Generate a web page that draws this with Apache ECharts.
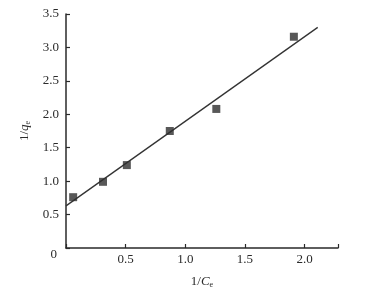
<!DOCTYPE html>
<html><head><meta charset="utf-8">
<script src="https://cdn.jsdelivr.net/npm/echarts@6/dist/echarts.min.js"></script>
<style>html,body{margin:0;padding:0;background:#fff}#c{width:377px;height:296px}</style>
</head><body><div id="c"></div>
<script>
const pointsX = [0.06, 0.31, 0.51, 0.87, 1.26, 1.91];
const pointsY = [0.76, 0.99, 1.24, 1.75, 2.08, 3.16];
const fitX = [0, 2.11];
const fitY = [0.63, 3.30];
const xTicks = [0.5, 1.0, 1.5, 2.0];
const yTicks = [0, 0.5, 1.0, 1.5, 2.0, 2.5, 3.0, 3.5];

const ink = '#2a2a2a';
const font = 'Liberation Serif';
const chart = echarts.init(document.getElementById('c'));
chart.setOption({
  animation: false,
  backgroundColor: '#fff',
  grid: {left: 66, right: 39, top: 14, bottom: 48},
  xAxis: {
    type: 'value', min: 0, max: 2.28, interval: 0.5,
    axisLine: {lineStyle: {color: ink, width: 1.5}},
    axisTick: {inside: true, length: 4, lineStyle: {color: ink, width: 1.2}},
    splitLine: {show: false},
    axisLabel: {
      color: ink, fontFamily: font, fontSize: 13, margin: 5,
      formatter: v => xTicks.some(t => Math.abs(t - v) < 1e-6) ? v.toFixed(1) : ''
    },
    name: '{n|1/}{i|C}{s|e}', nameLocation: 'middle', nameGap: 27,
    nameTextStyle: {
      rich: {
        n: {fontFamily: font, fontSize: 13, color: ink},
        i: {fontFamily: font, fontSize: 13, fontStyle: 'italic', color: ink},
        s: {fontFamily: font, fontSize: 8, color: ink, verticalAlign: 'bottom', padding: [6, 0, 0, 0]}
      }
    }
  },
  yAxis: {
    type: 'value', min: 0, max: 3.5, interval: 0.5,
    axisLine: {lineStyle: {color: ink, width: 1.5}},
    axisTick: {inside: true, length: 4, lineStyle: {color: ink, width: 1.2}},
    splitLine: {show: false},
    axisLabel: {
      color: ink, fontFamily: font, fontSize: 13, margin: 7,
      formatter: v => {
        const t = yTicks.find(t => Math.abs(t - v) < 1e-6);
        if (t === undefined) return '';
        return t === 0 ? '{z|0}' : t.toFixed(1);
      },
      rich: {z: {fontFamily: font, fontSize: 13, color: ink, padding: [14, 2, 0, 0]}}
    },
    name: '{n|1/}{i|q}{s|e}', nameLocation: 'middle', nameGap: 31, nameRotate: 90,
    nameTextStyle: {
      rich: {
        n: {fontFamily: font, fontSize: 13, color: ink},
        i: {fontFamily: font, fontSize: 13, fontStyle: 'italic', color: ink},
        s: {fontFamily: font, fontSize: 8, color: ink, verticalAlign: 'bottom', padding: [6, 0, 0, 0]}
      }
    }
  },
  series: [
    {
      type: 'line', data: fitX.map((x, i) => [x, fitY[i]]),
      symbol: 'none', lineStyle: {color: '#333', width: 1.3}, z: 2
    },
    {
      type: 'scatter', data: pointsX.map((x, i) => [x, pointsY[i]]),
      symbol: 'rect', symbolSize: 8, itemStyle: {color: '#2e2e2e'}, z: 3
    }
  ]
});
</script></body></html>
